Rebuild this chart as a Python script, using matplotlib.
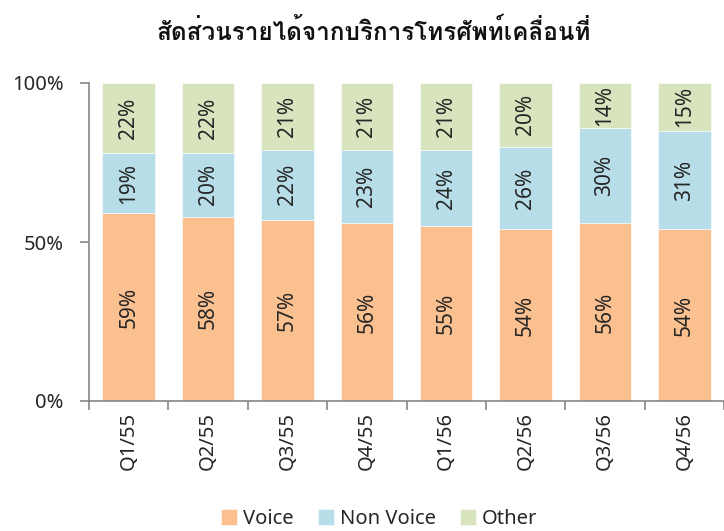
import numpy as np
import matplotlib
matplotlib.use("Agg")
import matplotlib.pyplot as plt
from matplotlib import font_manager
from matplotlib.font_manager import FontProperties
from matplotlib.ft2font import FT2Font

quarters = ["Q1/55", "Q2/55", "Q3/55", "Q4/55", "Q1/56", "Q2/56", "Q3/56", "Q4/56"]
voice = [59, 58, 57, 56, 55, 54, 56, 54]
non_voice = [19, 20, 22, 23, 24, 26, 30, 31]
other = [22, 22, 21, 21, 21, 20, 14, 15]
title = "สัดส่วนรายได้จากบริการโทรศัพท์เคลื่อนที่"

colors = {"Voice": "#FAC090", "Non Voice": "#B7DEE8", "Other": "#D7E4BD"}
NARROW = ("cond", "narrow", "compressed", "extended")


def pick_file(name, weight=400):
    # pin a regular-width file so a condensed cut never sneaks in
    best = None
    for f in sorted(font_manager.fontManager.ttflist, key=lambda f: f.fname):
        fn = f.fname.lower()
        if f.name != name or f.style != "normal" or any(k in fn for k in NARROW):
            continue
        if f.weight == weight:
            return f.fname
        best = best or f.fname
    return best


def thai_file():
    # any installed font that has Thai glyphs, bold cut first
    cands = []
    for f in sorted(font_manager.fontManager.ttflist, key=lambda f: f.fname):
        if any(k in f.fname.lower() for k in NARROW):
            continue
        try:
            if ord("ส") in FT2Font(f.fname).get_charmap():
                cands.append(f)
        except Exception:
            pass
    bold = [f for f in cands if f.weight in (700, "bold")]
    if bold:
        return bold[0].fname, "normal"
    if cands:
        return cands[0].fname, "bold"
    return None, "bold"


base_file = pick_file("Noto Sans") or pick_file("Open Sans")
fp = (lambda s: FontProperties(fname=base_file, size=s)) if base_file else \
    (lambda s: FontProperties(family="DejaVu Sans", size=s))
tfile, tweight = thai_file()
txt = "#262626"

fig = plt.figure(figsize=(7.24, 5.31), dpi=100)
ax = fig.add_axes([89 / 724, 1 - 401 / 531, 1 - 89 / 724, (401 - 83) / 531])

x = np.arange(len(quarters))
w = 0.66
bottom = np.zeros(len(quarters))
for name, vals in [("Voice", voice), ("Non Voice", non_voice), ("Other", other)]:
    vals = np.array(vals)
    ax.bar(x, vals, w, bottom=bottom, color=colors[name], label=name,
           edgecolor="white", linewidth=0.4)
    for xi, b, v in zip(x, bottom, vals):
        ax.text(xi, b + v / 2, f"{v}%", rotation=90, ha="center", va="center",
                fontproperties=fp(15), color=txt)
    bottom += vals

ax.set_xlim(-0.5, 7.42)
ax.set_ylim(0, 100)
ax.set_yticks([0, 50, 100])
ax.set_yticklabels(["0%", "50%", "100%"], fontproperties=fp(14.5), color=txt)
ax.set_xticks(x)
ax.set_xticklabels(quarters, rotation=90, fontproperties=fp(14.5), color=txt)
ax.set_xticks(np.arange(-0.5, 8, 1), minor=True)
ax.tick_params(axis="x", which="major", length=0, pad=8)
ax.tick_params(axis="x", which="minor", length=6.5, color="#868686", width=1.2)
ax.tick_params(axis="y", length=6.5, color="#868686", width=1.2, pad=12)
for s in ["top", "right"]:
    ax.spines[s].set_visible(False)
for s in ["left", "bottom"]:
    ax.spines[s].set_color("#868686")
    ax.spines[s].set_linewidth(1.2)

if tfile:
    tprop = FontProperties(fname=tfile, size=17.5, weight=tweight)
else:
    tprop = FontProperties(family="DejaVu Sans", size=17.5, weight="bold")
fig.text(374 / 724, 1 - 32 / 531, title, ha="center", va="center",
         fontproperties=tprop, color="#111111")

fig.legend(loc="center", bbox_to_anchor=(379 / 724, 1 - 519 / 531), ncol=3, frameon=False,
           prop=fp(14.5), handlelength=0.8, handleheight=0.8, columnspacing=1.2,
           handletextpad=0.3, labelcolor=txt)

fig.savefig("out.png", dpi=100)
